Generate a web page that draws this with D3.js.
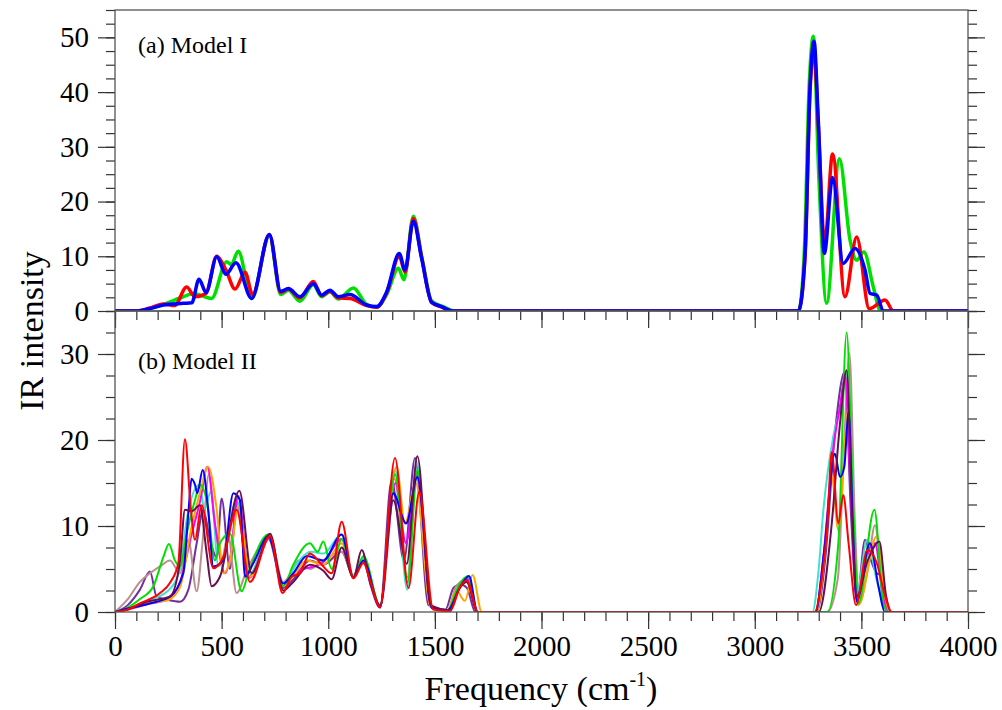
<!DOCTYPE html>
<html>
<head>
<meta charset="utf-8">
<script src="https://cdn.jsdelivr.net/npm/d3@7"></script>
<style>
  body { margin: 0; background: #fff; }
  svg text { font-family: "Liberation Serif", "Times New Roman", serif; fill: #000; }
</style>
</head>
<body>
<div id="chart"></div>
<script>
// frequency ticks (cm-1)
var freqMajor = [0, 500, 1000, 1500, 2000, 2500, 3000, 3500, 4000];
var topMajor = [0, 10, 20, 30, 40, 50];
var bottomMajor = [0, 10, 20, 30];

// (a) Model I spectra  [frequency, intensity]
var m1Green = [[0,0],[100,0],[160,0.4],[227,1.2],[320,2.6],[368,3.2],[453,2.3],[524,9.0],[545,8.5],[578,10.9],[641,2.3],[724,13.7],[777,3.0],[813,3.8],[867,1.8],[930,4.8],[969,2.6],[1008,3.5],[1047,2.2],[1118,4.2],[1180,1.2],[1227,0.7],[1274,3.0],[1329,7.8],[1355,5.7],[1399,17.3],[1438,10.0],[1485,1.8],[1540,0.8],[1590,0],[3205,0],[3232,10.5],[3255,41],[3275,50.2],[3300,25],[3337,1.4],[3397,27.8],[3447,12.9],[3478,9.3],[3512,10.8],[3556,4.4],[3590,0],[4000,0]];
var m1Red = [[0,0],[100,0],[160,0.5],[227,1.3],[280,1.0],[336,4.4],[375,2.6],[427,3.2],[477,10.0],[520,7.5],[563,4.0],[610,7.1],[645,3.0],[724,14.0],[777,3.4],[813,4.0],[867,2.4],[930,5.4],[969,2.8],[1008,3.6],[1047,2.4],[1102,2.3],[1180,1.0],[1227,0.7],[1274,3.3],[1333,10.0],[1360,7.1],[1399,16.9],[1438,9.8],[1485,1.5],[1532,0.7],[1580,0],[3205,0],[3236,10],[3259,40],[3278,47.5],[3298,34],[3328,12.3],[3365,28.7],[3423,2.6],[3478,13.5],[3537,0.4],[3611,2.0],[3650,0],[4000,0]];
var m1Blue = [[0,0],[100,0],[160,0.4],[227,1.1],[320,1.4],[360,1.5],[394,5.8],[427,3.4],[477,9.9],[520,6.7],[567,8.8],[641,2.3],[724,14.0],[777,3.6],[813,4.1],[867,2.6],[930,5.0],[969,2.9],[1008,3.8],[1047,2.6],[1102,3.0],[1180,1.1],[1227,0.8],[1274,3.5],[1333,10.5],[1360,7.5],[1399,16.4],[1438,9.6],[1485,1.6],[1532,0.8],[1580,0],[3205,0],[3236,10.5],[3259,40.8],[3278,49.3],[3298,34.7],[3326,10.5],[3365,24.4],[3415,8.7],[3470,11.4],[3517,7.5],[3541,3.2],[3572,2.9],[3603,0],[4000,0]];

// (b) Model II spectra
var m2Violet = [[0,0],[60,0.8],[117,2.6],[164,4.7],[195,1.8],[250,1.4],[305,1.2],[344,2.6],[383,8],[414,11.9],[445,8.4],[477,6.4],[500,13.2],[539,5.0],[570,13.0],[625,4.0],[720,8.5],[789,2.8],[836,3.8],[914,6.0],[977,5.5],[1063,7.0],[1118,4.2],[1165,6.0],[1200,3],[1243,0.5],[1297,15.3],[1355,6.0],[1407,17.9],[1470,0.8],[1550,0.3],[1587,2.8],[1620,3.2],[1650,2.8],[1690,0],[3290,0],[3330,6],[3376,20.8],[3423,28],[3450,12],[3480,1.5],[3517,8.4],[3545,6],[3572,4.5],[3590,4.3],[3625,0],[4000,0]];
var m2Brown = [[0,0],[60,1.5],[117,3.5],[164,4.5],[211,5.3],[258,6.0],[305,4.5],[344,8.4],[383,2.4],[410,8],[440,16.0],[470,10],[500,6],[530,9],[570,2.2],[620,5],[727,8.5],[789,3.5],[836,5],[860,6.0],[914,5],[977,6],[1063,7.0],[1118,4.3],[1165,6.3],[1243,0.7],[1310,15.5],[1370,4],[1415,16],[1480,0.6],[1560,0.2],[1600,3],[1650,3.8],[1700,0],[3340,0],[3390,4],[3420,20],[3444,30.1],[3470,10],[3490,1],[3530,5],[3564,10.1],[3600,2],[3630,0],[4000,0]];
var m2Cyan = [[0,0],[60,0.4],[150,1.3],[250,2.5],[305,5],[336,10.7],[395,14.8],[420,12],[450,14],[485,5.3],[510,6.4],[570,13],[633,4.5],[727,8.8],[789,3],[836,5],[920,7],[977,6.8],[1063,9],[1118,4.3],[1165,6.2],[1243,0.7],[1313,16.5],[1370,2.6],[1414,17.3],[1485,0.5],[1560,0.2],[1620,3],[1650,4],[1700,0],[3270,0],[3298,4.5],[3322,11.9],[3368,20.4],[3407,24.3],[3431,27.8],[3454,17.7],[3478,2.2],[3528,8.4],[3572,3.7],[3610,0.5],[3630,0],[4000,0]];
var m2Magenta = [[0,0],[60,0.3],[150,0.9],[250,1.5],[305,3.5],[359,9],[400,13],[433,16.9],[470,10],[516,4.5],[545,7],[578,13.5],[630,4],[727,8.7],[789,3],[836,4.5],[977,5.8],[1063,8.5],[1118,4],[1165,5.8],[1243,0.6],[1315,15],[1365,8],[1415,16],[1485,0.5],[1560,0.2],[1620,3],[1655,3.8],[1700,0],[3285,0],[3320,6],[3368,19],[3400,24],[3423,27.4],[3450,14],[3478,1.5],[3530,7],[3564,8],[3600,2],[3630,0],[4000,0]];
var m2Orange = [[0,0],[60,0.3],[150,1.0],[211,1.2],[250,1.4],[305,2.9],[359,9.9],[400,14],[437,16.9],[477,11.9],[508,4.5],[539,6],[578,12.2],[633,4.1],[727,8.8],[789,3.0],[836,4.2],[900,6],[977,5.5],[1063,8],[1118,4.2],[1165,5.8],[1243,0.7],[1320,16.9],[1360,10.3],[1410,15],[1480,0.6],[1560,0.2],[1600,2.5],[1641,1.3],[1677,4.3],[1720,0],[3290,0],[3325,6],[3361,15.7],[3392,9.5],[3439,23.5],[3460,10],[3486,0.8],[3572,8.8],[3610,2],[3635,0],[4000,0]];
var m2Green = [[0,0],[60,0.5],[117,1.5],[180,3.0],[227,6.4],[253,7.9],[281,6.0],[305,5.3],[336,9.1],[375,13],[398,14.8],[430,13],[469,6],[492,8],[539,9.1],[594,2.4],[625,4.5],[719,9.0],[789,3.0],[836,5.5],[914,8.0],[950,7],[977,8.2],[1016,5],[1063,8.5],[1118,4.0],[1165,6.5],[1243,0.7],[1313,16],[1372,3.5],[1418,16.5],[1485,0.6],[1560,0.2],[1610,3],[1655,4.2],[1700,0],[3340,0],[3392,8],[3431,32.5],[3462,11.9],[3486,1],[3561,11.9],[3603,1],[3626,0],[4000,0]];
var m2Blue = [[0,0],[60,0.4],[150,0.9],[258,1.8],[320,4.5],[344,11.5],[359,15.5],[375,14.8],[386,13.8],[411,16.5],[437,11.9],[461,5.3],[508,6.0],[555,13.8],[586,13.0],[610,4.1],[649,5.7],[719,8.8],[789,3.3],[836,4.5],[900,6.5],[977,6],[1063,9],[1118,4],[1165,6],[1243,0.6],[1305,13.8],[1365,10.3],[1418,15.7],[1485,0.5],[1560,0.2],[1620,3],[1660,4.2],[1700,0],[3285,0],[3325,7],[3376,18.4],[3400,15.7],[3420,16.9],[3440,23.5],[3460,10],[3478,1.2],[3540,8],[3580,3],[3610,0],[4000,0]];
var m2Plum = [[0,0],[60,0.3],[150,1.2],[258,1.8],[305,6],[328,11.9],[359,11.7],[398,12.4],[430,6.8],[453,3],[492,4.1],[583,14.1],[641,4.5],[727,9.1],[789,2.5],[836,3.5],[914,5.5],[977,4.8],[1016,3.8],[1063,7.5],[1118,4.0],[1157,7.2],[1196,3.5],[1243,0.8],[1305,13],[1368,5.6],[1418,18.1],[1480,0.8],[1571,0.2],[1610,2.5],[1649,3.5],[1700,0],[3300,0],[3360,10],[3400,22],[3431,28.1],[3455,12],[3478,1.8],[3530,6],[3584,8.2],[3615,2],[3640,0],[4000,0]];
var m2Red = [[0,0],[60,0.3],[117,1.0],[211,2.2],[258,3.4],[297,5.7],[328,20.1],[355,12.2],[375,8.4],[406,12.4],[461,5.1],[508,6.4],[570,11.9],[633,3.5],[727,8.8],[786,2.2],[828,4.1],[867,4.5],[914,6.8],[969,5.5],[1016,4.5],[1063,10.5],[1118,3.9],[1165,5.7],[1196,3.7],[1243,0.6],[1313,17.9],[1376,2.8],[1427,14.0],[1492,0.3],[1571,0.1],[1618,2.9],[1649,3.7],[1703,0],[3280,0],[3315,4],[3340,10],[3361,18.6],[3392,10.3],[3415,13.6],[3440,8],[3475,0.8],[3528,7.2],[3572,5.7],[3610,2],[3642,0],[4000,0]];

var svg = d3.select("#chart").append("svg")
    .attr("width", 1002)
    .attr("height", 710);

var left = 115, right = 968;
var x = d3.scaleLinear().domain([0, 4000]).range([left, right]);

// two stacked panels
var yTop = d3.scaleLinear().domain([0, 55]).range([311, 10]);
var yBot = d3.scaleLinear().domain([0, 35]).range([612, 311]);

function range(a, b, s) {
    var out = [];
    for (var v = a; v <= b + 1e-9; v += s) out.push(v);
    return out;
}

function panel(y, major, maxV, series, styles, width, label, labelY, showX, id) {
    var y0 = y.range()[0], y1 = y.range()[1];
    var g = svg.append("g");

    g.append("clipPath").attr("id", id).append("rect")
        .attr("x", left).attr("y", y1)
        .attr("width", right - left).attr("height", y0 - y1);

    var line = d3.line()
        .x(function (d) { return x(d[0]); })
        .y(function (d) { return y(d[1]); })
        .curve(d3.curveMonotoneX);

    var lines = g.append("g").attr("clip-path", "url(#" + id + ")");
    series.forEach(function (s, i) {
        lines.append("path")
            .datum(s)
            .attr("d", line)
            .attr("fill", "none")
            .attr("stroke", styles[i])
            .attr("stroke-width", width)
            .attr("stroke-linejoin", "round");
    });

    var minor = range(0, maxV, 2.5);

    // y axes
    var la = g.append("g").attr("transform", "translate(" + left + ",0)")
        .call(d3.axisLeft(y).tickValues(major).tickSize(17).tickPadding(9).tickFormat(d3.format("d")));
    g.append("g").attr("transform", "translate(" + left + ",0)")
        .call(d3.axisLeft(y).tickValues(minor).tickSize(9).tickFormat(""));
    g.append("g").attr("transform", "translate(" + right + ",0)")
        .call(d3.axisRight(y).tickValues(major).tickSize(17).tickFormat(""));
    g.append("g").attr("transform", "translate(" + right + ",0)")
        .call(d3.axisRight(y).tickValues(minor).tickSize(9).tickFormat(""));
    la.selectAll("text").style("font-size", "29px");

    // x axis
    var xa = g.append("g").attr("transform", "translate(0," + y0 + ")")
        .call(d3.axisBottom(x).tickValues(freqMajor).tickSize(17).tickPadding(6)
            .tickFormat(showX ? d3.format("d") : ""));
    g.append("g").attr("transform", "translate(0," + y0 + ")")
        .call(d3.axisBottom(x).tickValues(range(0, 4000, 100)).tickSize(9).tickFormat(""));
    xa.selectAll("text").style("font-size", "29px");

    g.selectAll(".domain").remove();
    g.selectAll(".tick line").attr("stroke", "#333").attr("stroke-width", 1.2);

    g.append("rect")
        .attr("x", left).attr("y", y1)
        .attr("width", right - left).attr("height", y0 - y1)
        .attr("fill", "none").attr("stroke", "#555").attr("stroke-width", 1.3);

    g.append("text")
        .attr("x", 138).attr("y", labelY)
        .style("font-size", "24px")
        .text(label);
}

panel(yTop, topMajor, 55, [m1Green, m1Red, m1Blue],
    ["#00e000", "#ff0000", "#0000ff"], 3.5, "(a) Model I", 53, false, "clipTop");

panel(yBot, bottomMajor, 35,
    [m2Violet, m2Brown, m2Cyan, m2Magenta, m2Orange, m2Green, m2Blue, m2Plum, m2Red],
    ["#7030a0", "#bc8f8f", "#40e0d0", "#ff00ff", "#ffa500", "#00e000", "#0000ff", "#66104f", "#ff0000"],
    2, "(b) Model II", 369, true, "clipBot");

// axis titles
var xt = svg.append("text")
    .attr("x", 541).attr("y", 700)
    .attr("text-anchor", "middle")
    .style("font-size", "34px");
xt.append("tspan").text("Frequency (cm");
xt.append("tspan").attr("dy", -14).style("font-size", "20px").text("-1");
xt.append("tspan").attr("dy", 14).text(")");

svg.append("text")
    .attr("transform", "translate(43,331) rotate(-90)")
    .attr("text-anchor", "middle")
    .style("font-size", "34px")
    .text("IR intensity");
</script>
</body>
</html>
